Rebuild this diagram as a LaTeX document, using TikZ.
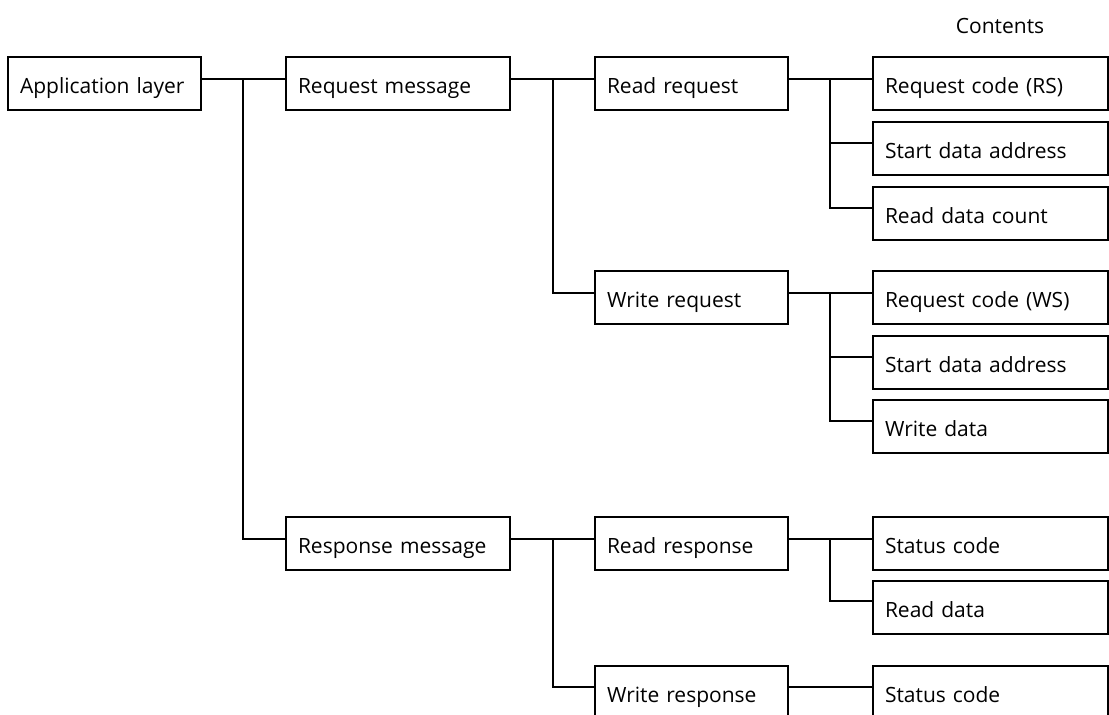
\documentclass[tikz,border=0pt]{standalone}
\usepackage{fontspec}
\setmainfont{Open Sans}
\begin{document}
\begin{tikzpicture}[x=1pt,y=-1pt,
  every node/.style={font=\fontsize{21}{24}\selectfont},
  box/.style={draw, line width=1.8pt, anchor=north west, minimum height=53pt,
    inner xsep=12pt, inner ysep=0pt, outer sep=0pt, align=left,
    text height=22pt, text depth=3pt},
  colA/.style={box, text width=169pt},
  colB/.style={box, text width=200pt},
  colC/.style={box, text width=169pt},
  colD/.style={box, text width=211pt},
  link/.style={line width=1.8pt}]
\clip (0,0) rectangle (1109,715);
\useasboundingbox (0,0) rectangle (1109,715);

\node (contents) at (1000,26) {Contents};

\node[colA] (app) at (8,57) {Application layer};
\node[colB] (req) at (286,57) {Request message};
\node[colB] (resp) at (286,517) {Response message};

\node[colC] (rreq) at (595,57) {Read request};
\node[colC] (wreq) at (595,271) {Write request};
\node[colC] (rresp) at (595,517) {Read response};
\node[colC] (wresp) at (595,666) {Write response};

\node[colD] (rs) at (873,57) {Request code (RS)};
\node[colD] (sda1) at (873,122) {Start data address};
\node[colD] (rdc) at (873,187) {Read data count};
\node[colD] (ws) at (873,271) {Request code (WS)};
\node[colD] (sda2) at (873,336) {Start data address};
\node[colD] (wd) at (873,400) {Write data};
\node[colD] (sc1) at (873,517) {Status code};
\node[colD] (rd) at (873,581) {Read data};
\node[colD] (sc2) at (873,666) {Status code};

% junction points
\coordinate (j1) at (243,79);
\coordinate (j2) at (553,79);
\coordinate (j3) at (553,539);
\coordinate (j4) at (830,79);
\coordinate (j5) at (830,293);
\coordinate (j6) at (830,539);

% level 1
\draw[link] ([yshift=-22pt]app.north east) -- ([yshift=-22pt]req.north west);
\draw[link] (j1) |- ([yshift=-22pt]resp.north west);

% level 2
\draw[link] ([yshift=-22pt]req.north east) -- ([yshift=-22pt]rreq.north west);
\draw[link] (j2) |- ([yshift=-22pt]wreq.north west);
\draw[link] ([yshift=-22pt]resp.north east) -- ([yshift=-22pt]rresp.north west);
\draw[link] (j3) |- ([yshift=-21pt]wresp.north west);

% level 3
\draw[link] ([yshift=-22pt]rreq.north east) -- ([yshift=-22pt]rs.north west);
\draw[link] (j4) |- ([yshift=-21pt]sda1.north west);
\draw[link] (j4) |- ([yshift=-21pt]rdc.north west);
\draw[link] ([yshift=-22pt]wreq.north east) -- ([yshift=-22pt]ws.north west);
\draw[link] (j5) |- ([yshift=-21pt]sda2.north west);
\draw[link] (j5) |- ([yshift=-21pt]wd.north west);
\draw[link] ([yshift=-22pt]rresp.north east) -- ([yshift=-22pt]sc1.north west);
\draw[link] (j6) |- ([yshift=-20pt]rd.north west);
\draw[link] ([yshift=-21pt]wresp.north east) -- ([yshift=-21pt]sc2.north west);
\end{tikzpicture}
\end{document}
